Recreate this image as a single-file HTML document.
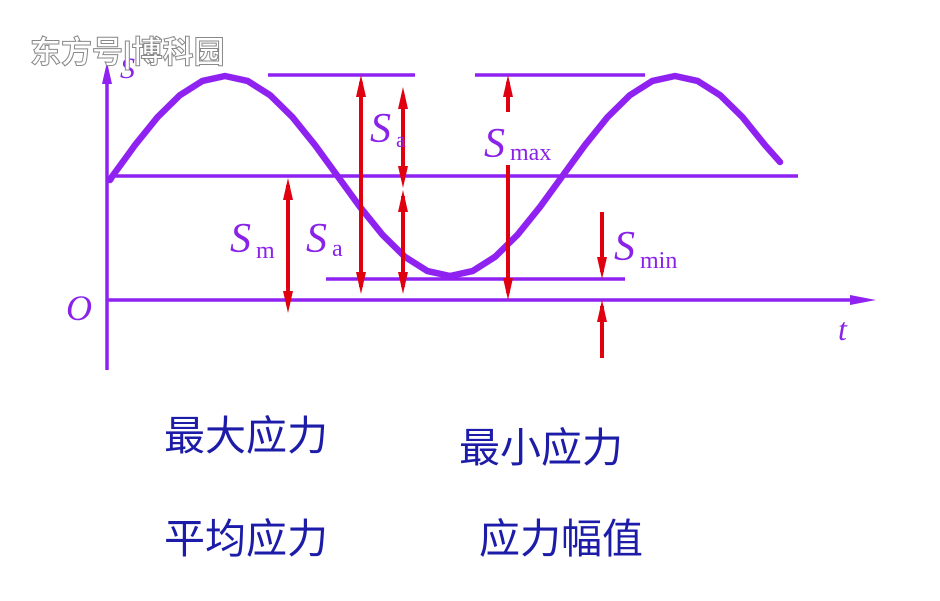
<!DOCTYPE html>
<html><head><meta charset="utf-8"><style>
html,body{margin:0;padding:0;background:#fff;}
svg{display:block;}
.cn{font-family:"Liberation Sans","Noto Sans CJK SC",sans-serif;font-size:41px;fill:#1c1ca8;font-weight:normal;}
.it{font-family:"Liberation Serif",serif;font-style:italic;fill:#8a22e8;}
.sub{font-family:"Liberation Serif",serif;fill:#8a22e8;}
</style></head><body>
<svg width="940" height="601" viewBox="0 0 940 601" xmlns="http://www.w3.org/2000/svg">
<g stroke="#8f22f0" stroke-width="3.5" fill="none">
<line x1="107" y1="75" x2="107" y2="370"/>
<line x1="107" y1="300" x2="862" y2="300"/>
<line x1="110" y1="176" x2="798" y2="176"/>
<line x1="268" y1="75" x2="415" y2="75"/>
<line x1="475" y1="75" x2="645" y2="75"/>
<line x1="326" y1="279" x2="625" y2="279"/>
<polyline stroke-width="6.5" stroke-linejoin="round" stroke-linecap="round" points="110,180 112.5,176 135,145.1 157.5,117.2 180,95.1 202.5,80.9 225,76 247.5,80.9 270,95.1 292.5,117.2 315,145.1 337.5,176 360,206.9 382.5,234.8 405,256.9 427.5,271.1 450,276 472.5,271.1 495,256.9 517.5,234.8 540,206.9 562.5,176 585,145.1 607.5,117.2 630,95.1 652.5,80.9 675,76 697.5,80.9 720,95.1 742.5,117.2 765,145.1 780,162"/>
</g>
<polygon fill="#8f22f0" points="107,62 102,84 112,84"/>
<polygon fill="#8f22f0" points="876,300 850,295 850,305"/>
<g stroke="#e00010" stroke-width="4">
<line x1="288" y1="185" x2="288" y2="305"/>
<line x1="361" y1="82" x2="361" y2="287"/>
<line x1="403" y1="95" x2="403" y2="180"/>
<line x1="403" y1="196" x2="403" y2="287"/>
<line x1="508" y1="82" x2="508" y2="112"/>
<line x1="508" y1="165" x2="508" y2="293"/>
<line x1="602" y1="212" x2="602" y2="272"/>
<line x1="602" y1="306" x2="602" y2="358"/>
</g>
<g fill="#e00010">
<polygon points="288,178 283,200 293,200"/><polygon points="288,313 283,291 293,291"/>
<polygon points="361,75 356,97 366,97"/><polygon points="361,294 356,272 366,272"/>
<polygon points="403,87 398,109 408,109"/><polygon points="403,188 398,166 408,166"/>
<polygon points="403,190 398,212 408,212"/><polygon points="403,294 398,272 408,272"/>
<polygon points="508,75 503,97 513,97"/><polygon points="508,300 503,278 513,278"/>
<polygon points="602,279 597,257 607,257"/><polygon points="602,300 597,322 607,322"/>
</g>
<text class="it" x="66" y="320" font-size="36">O</text>
<text class="it" x="838" y="340" font-size="32">t</text>
<text class="it" x="120" y="78" font-size="30">S</text>
<text class="it" x="370" y="142" font-size="42">S</text><text class="sub" x="396" y="147" font-size="22">a</text>
<text class="it" x="230" y="252" font-size="42">S</text><text class="sub" x="256" y="258" font-size="24">m</text>
<text class="it" x="306" y="252" font-size="42">S</text><text class="sub" x="332" y="256" font-size="24">a</text>
<text class="it" x="484" y="157" font-size="42">S</text><text class="sub" x="510" y="160" font-size="24">max</text>
<text class="it" x="614" y="260" font-size="42">S</text><text class="sub" x="640" y="268" font-size="24">min</text>
<text x="30" y="63" font-family="'Liberation Sans','Noto Sans CJK SC',sans-serif" font-size="31" font-weight="bold" fill="#fff" stroke="#888" stroke-width="1">东方号|博科园</text>
<text class="cn" x="164" y="450">最大应力</text>
<text class="cn" x="459" y="462">最小应力</text>
<text class="cn" x="164" y="553">平均应力</text>
<text class="cn" x="479" y="553">应力幅值</text>
</svg>
</body></html>
